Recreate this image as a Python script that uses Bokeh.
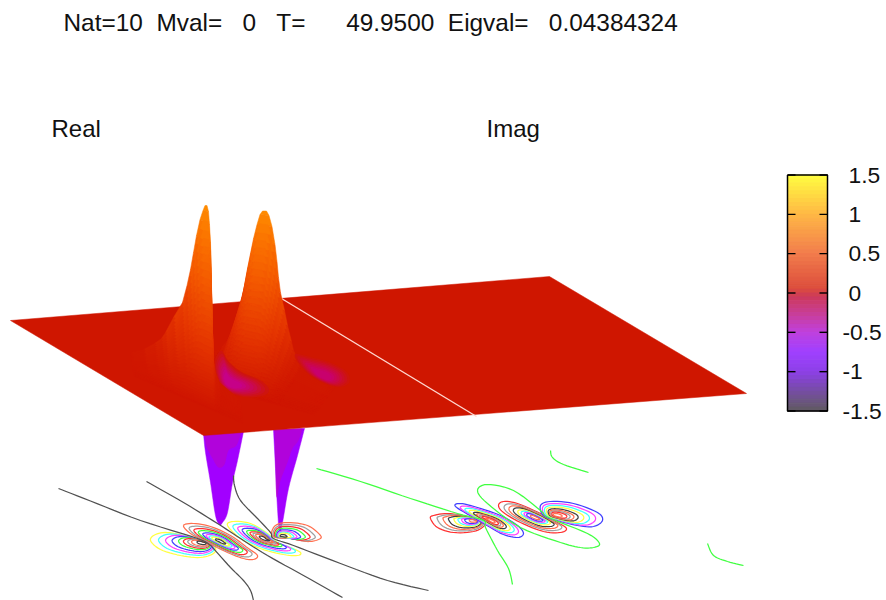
from bokeh.plotting import figure
from bokeh.models import Range1d
from bokeh.core.properties import value
from bokeh.embed import file_html
from bokeh.resources import INLINE

# ---------- texts ----------
TITLE = "Nat=10\u00a0\u00a0Mval=\u00a0\u00a0\u00a00\u00a0\u00a0\u00a0T=\u00a0\u00a0\u00a0\u00a0\u00a0\u00a049.9500\u00a0\u00a0Eigval=\u00a0\u00a0\u00a00.04384324"
PANELS = ["Real", "Imag"]
PANEL_X = [51, 486]
CB_TICKS = [1.5, 1.0, 0.5, 0.0, -0.5, -1.0, -1.5]
CB_LABELS = ["1.5", "1", "0.5", "0", "-0.5", "-1", "-1.5"]
CB_LABEL_X = [848, 848, 848, 848, 842, 842, 842]

# ---------- surface (screen x, screen y) ----------
PLANE_X = [10, 549, 746, 203]
PLANE_Y = [320, 276, 393, 435]
SEAM_X = [281, 476]
SEAM_Y = [298, 416]

PROFILE_H = [1, .97, .9, .8, .7, .6, .5, .4, .3, .2, .15, .1, .05, 0]
LEFT_PEAK_LX = [204.5, 202.5, 199.5, 196, 193, 190, 186.5, 182, 173, 165, 161, 154, 143, 130]
LEFT_PEAK_LY = [205, 210, 219, 235, 252, 269, 285, 302, 317, 332, 338, 343, 349, 352]
LEFT_PEAK_RX = [206.5, 208, 209, 210, 210.5, 210.7, 211, 211.5, 212, 212.5, 213, 215, 219, 240]
LEFT_PEAK_RY = [205, 211, 224, 242, 260, 278, 296, 315, 333, 351, 362, 372, 382, 400]
RIGHT_PEAK_LX = [262, 259.5, 256.5, 253, 250, 247, 244.5, 241, 236, 232.5, 230, 227, 221, 210]
RIGHT_PEAK_LY = [210.5, 214, 224, 238, 253, 268, 284, 298, 315, 326, 333, 340, 347, 352]
RIGHT_PEAK_RX = [266, 268.5, 271.5, 274.5, 276.5, 278, 280, 284, 287, 291, 293, 297, 301, 335]
RIGHT_PEAK_RY = [210.5, 215, 226, 244, 261, 277, 292, 310, 325, 341, 350, 358, 366, 386]
SLICES = [1, .95, .9, .86, .82, .78, .74, .70, .66, .62, .58, .54, .50, .46, .42, .38, .34, .30, .26, .22, .18, .14, .10, .06]

SPIKE1_X = [203, 205, 210, 215, 219, 222, 227, 232, 237, 243]
SPIKE1_Y = [433, 452, 482, 515, 524, 522, 512, 482, 460, 431]
SPIKE2_X = [273, 275, 277, 279, 282, 288, 297, 304]
SPIKE2_Y = [429, 468, 508, 531, 522, 488, 455, 428]
SPIKE1_TINT_X = [204, 206, 212, 218, 224, 228, 236, 241]
SPIKE1_TINT_Y = [433, 446, 458, 467, 464, 450, 445, 431]
SPIKE2_TINT_X = [274, 275, 276, 280, 287, 292, 298, 302]
SPIKE2_TINT_Y = [429, 470, 497, 480, 462, 448, 440, 428]

CRESCENT1_X = [215, 218, 228, 245, 262, 266, 258, 240, 228, 221]
CRESCENT1_Y = [363, 380, 391, 396, 394, 388, 380, 372, 362, 352]
CRESCENT2_X = [296, 302, 315, 335, 347, 345, 330, 312]
CRESCENT2_Y = [355, 367, 378, 386, 382, 372, 363, 358]

# ---------- contour lines at the base ----------
LEVEL_FRACS = [1, .85, .72, .6, .48, .39, .31, .24, .14]
COLORS_A = ["#ffff40", "#40ffff", "#ff40ff", "#4040ff", "#40ff40", "#ff3030", "#a0a0a0", "#ff7050", "#404040"]
COLORS_B = ["#ff7050", "#a0a0a0", "#ff3030", "#40ff40", "#4040ff", "#ff40ff", "#40ffff", "#ffff40", "#404040"]
COLORS_C = ["#ff3030", "#a0a0a0", "#ff7050", "#404040", "#ffff40", "#40ffff", "#ff40ff", "#4040ff", "#ff7050"]
COLORS_D = ["#4040ff", "#ff40ff", "#40ffff", "#ffff40", "#404040", "#ff7050", "#a0a0a0", "#ff3030", "#ff7050"]

L1 = [(150,540),(155,534),(167,532),(183,535),(200,540),(210,543),(215,547),(213,553),(200,557),(180,555),(160,549)]
L2 = [(183,525),(193,523),(210,526),(230,535),(248,548),(257,555),(253,559),(243,558),(227,552),(207,542),(190,533)]
L3 = [(227,525),(233,521),(250,523),(267,533),(277,542),(290,547),(300,552),(297,555),(283,554),(260,548),(240,538)]
L4 = [(271,533),(275,525),(287,522),(307,525),(320,535),(318,539),(307,541),(290,538),(275,537)]
R1 = [(430,518),(433,515),(447,513),(467,516),(482,522),(483,526),(473,531),(453,532),(437,527)]
R2 = [(455,506),(460,503),(477,507),(500,515),(517,525),(523,533),(517,537),(503,534),(490,527),(473,517)]
R3 = [(498,505),(503,501),(517,503),(540,513),(557,522),(566,528),(560,532),(543,531),(520,522),(503,512)]
R4 = [(540,505),(550,501),(573,503),(597,512),(602,520),(593,526),(577,525),(557,520),(543,515)]
G_LOOP = [(477,490),(487,484),(513,490),(540,510),(548,517),(587,533),(599,543),(593,547),(580,547),(560,542),(520,527),(487,503)]

LOBES = [(L1,(204,542),COLORS_A),(L2,(220,541),COLORS_B),(L3,(264,538),COLORS_A),(L4,(281,536),COLORS_B),
         (R1,(475,520),COLORS_C),(R2,(490,520),COLORS_D),(R3,(535,517),COLORS_C),(R4,(555,515),COLORS_D)]

ZERO_BLACK = [
    [(58,488),(90,500.5),(140,520),(197,538),(210,545),(213,548),(230,567),(243,580),(250,590),(253,600)],
    [(146,481),(183,502),(217,523),(240,538),(267,555),(303,575),(342,597)],
    [(233,475),(234,485),(240,500),(257,518),(270,532),(273,538),(293,545),(340,563),(387,580),(428,590)],
]
ZERO_GREEN = [
    [(316,468),(360,481),(410,498),(457,513),(483,520),(485,527),(497,550),(508,568),(512,584)],
    [(550,450),(552,457),(563,464),(588,472)],
    [(707,543),(713,555),(727,561),(743,565)],
]

# ---------- colour bar ----------
CB_VALUES = [1.5, 1.0, 0.5, 0.05, -0.05, -0.3, -0.5, -0.75, -1.0, -1.5]
CB_RGB = [(255,255,64),(255,184,69),(242,125,76),(220,77,60),(204,58,90),(200,62,160),(192,64,220),(160,64,255),(141,64,232),(96,90,96)]
CB_BOX = (787, 827, 174.5, 410.5)

# surface colour against height fraction
Z_STOPS = [0, .1, .3, .6, .8, 1]
Z_RGB = [(207,22,0),(213,31,0),(228,52,0),(243,88,0),(250,112,0),(255,140,0)]


def ramp(v, xs, cols):
    pairs = sorted(zip(xs, cols))
    if v <= pairs[0][0]:
        c = pairs[0][1]
    elif v >= pairs[-1][0]:
        c = pairs[-1][1]
    else:
        for (a, ca), (b, cb) in zip(pairs, pairs[1:]):
            if a <= v <= b:
                t = (v - a) / (b - a)
                c = tuple(ca[i] + t * (cb[i] - ca[i]) for i in range(3))
                break
    return "#%02x%02x%02x" % tuple(int(round(q)) for q in c)


def smooth(pts, closed=False, n=6):
    P = list(pts)
    out = []
    m = len(P)
    segs = m if closed else m - 1
    for i in range(segs):
        if closed:
            p0, p1, p2, p3 = P[(i-1) % m], P[i], P[(i+1) % m], P[(i+2) % m]
        else:
            p0, p1, p2, p3 = P[max(i-1, 0)], P[i], P[i+1], P[min(i+2, m-1)]
        for k in range(n):
            t = k / n
            out.append(tuple(0.5 * (2*p1[d] + (p2[d]-p0[d])*t + (2*p0[d]-5*p1[d]+4*p2[d]-p3[d])*t*t
                                    + (3*p1[d]-p0[d]-3*p2[d]+p3[d])*t*t*t) for d in (0, 1)))
    out.append(P[0] if closed else P[-1])
    return out


def peak_quads(lx, ly, rx, ry, drift_x, drift_y):
    x0, y0, x1, y1 = lx[-1], ly[-1], rx[-1], ry[-1]
    foot = lambda x: y0 + (x - x0) * (y1 - y0) / (x1 - x0)
    xs, ys, cols = [], [], []
    for s in SLICES:
        def pt(x, y):
            f = foot(x)
            return x + (1 - s) * drift_x, f - s * (f - y) + (1 - s) * drift_y
        for j in range(len(PROFILE_H) - 1):
            a, b = pt(lx[j], ly[j]), pt(rx[j], ry[j])
            c, d = pt(rx[j+1], ry[j+1]), pt(lx[j+1], ly[j+1])
            xs.append([a[0], b[0], c[0], d[0]])
            ys.append([a[1], b[1], c[1], d[1]])
            cols.append(ramp(s * (PROFILE_H[j] + PROFILE_H[j+1]) / 2, Z_STOPS, Z_RGB))
    return xs, ys, cols


p = figure(width=886, height=600, x_range=Range1d(0, 886), y_range=Range1d(600, 0),
           toolbar_location=None, output_backend="svg", min_border=0,
           background_fill_color="white", border_fill_color="white")
p.axis.visible = False
p.grid.visible = False
p.outline_line_color = None

for sx_, sy_ in [(SPIKE1_X, SPIKE1_Y), (SPIKE2_X, SPIKE2_Y)]:
    q = smooth(list(zip(sx_, sy_)))
    p.patch([a for a, _ in q], [b for _, b in q], fill_color="#a200ff", line_color="#a200ff", line_width=0.5)
for sx_, sy_ in [(SPIKE1_TINT_X, SPIKE1_TINT_Y), (SPIKE2_TINT_X, SPIKE2_TINT_Y)]:
    q = smooth(list(zip(sx_, sy_)))
    p.patch([a for a, _ in q], [b for _, b in q], fill_color="#b804cc", fill_alpha=0.7, line_color=None)

p.patch(PLANE_X, PLANE_Y, fill_color="#cf1600", line_color="#cf1600", line_width=0.5)
p.line(SEAM_X, SEAM_Y, line_color="#ffd8d0", line_width=1.4)

xs, ys, cols = peak_quads(RIGHT_PEAK_LX, RIGHT_PEAK_LY, RIGHT_PEAK_RX, RIGHT_PEAK_RY, -22, 30)
p.patches(xs, ys, fill_color=cols, line_color=cols, line_width=0.5)

for cx, cy, anchor, fade in [(CRESCENT1_X, CRESCENT1_Y, (228, 383), (198, 0, 140)),
                             (CRESCENT2_X, CRESCENT2_Y, (322, 376), (200, 0, 112))]:
    for f, t in zip([1.06, .96, .86, .76, .66, .56, .46, .36], [.1, .22, .36, .5, .63, .76, .88, .97]):
        col = ramp(t, [0, 1], [(207, 22, 0), fade])
        q = smooth(list(zip(cx, cy)), closed=True)
        p.patch([anchor[0] + f * (a - anchor[0]) for a, _ in q],
                [anchor[1] + f * (b - anchor[1]) for _, b in q], fill_color=col, line_color=None)

xs, ys, cols = peak_quads(LEFT_PEAK_LX, LEFT_PEAK_LY, LEFT_PEAK_RX, LEFT_PEAK_RY, 3, 25)
p.patches(xs, ys, fill_color=cols, line_color=cols, line_width=0.5)

W = 1.25
for lobe, anchor, colors in LOBES:
    curve = smooth(lobe, closed=True)
    for f, c in zip(LEVEL_FRACS, colors):
        p.line([anchor[0] + f * (q[0] - anchor[0]) for q in curve],
               [anchor[1] + f * (q[1] - anchor[1]) for q in curve], line_color=c, line_width=W)
for line in ZERO_BLACK:
    q = smooth(line)
    p.line([a for a, _ in q], [b for _, b in q], line_color="#505050", line_width=W)
for line in ZERO_GREEN:
    q = smooth(line)
    p.line([a for a, _ in q], [b for _, b in q], line_color="#40ff40", line_width=W)
q = smooth(G_LOOP, closed=True)
p.line([a for a, _ in q], [b for _, b in q], line_color="#40ff40", line_width=W)

x0, x1, y_top, y_bot = CB_BOX
to_y = lambda v: y_top + (1.5 - v) * (y_bot - y_top) / 3.0
n = 60
sx, sy, sc = [], [], []
for i in range(n):
    v0 = 1.5 - 3.0 * i / n
    v1 = 1.5 - 3.0 * (i + 1) / n
    sx.append([x0, x1, x1, x0])
    sy.append([to_y(v0), to_y(v0), to_y(v1), to_y(v1)])
    sc.append(ramp((v0 + v1) / 2, CB_VALUES, CB_RGB))
p.patches(sx, sy, fill_color=sc, line_color=sc, line_width=1)
for v in CB_TICKS:
    y = to_y(v)
    p.line([x0, x0 + 8], [y, y], line_color="black", line_width=1.4)
    p.line([x1 - 8, x1], [y, y], line_color="black", line_width=1.4)
p.line([x0, x1, x1, x0, x0], [y_top, y_top, y_bot, y_bot, y_top], line_color="black", line_width=1.5)

font = value("Liberation Sans")
p.text([63], [22], text=[TITLE], text_font=font, text_font_size="24.4px", text_color="#111111",
       text_baseline="alphabetic", text_align="left")
p.text(PANEL_X, [128, 128], text=PANELS, text_font=font, text_font_size="24px", text_color="#111111",
       text_baseline="alphabetic", text_align="left")
p.text(CB_LABEL_X, [to_y(v) for v in CB_TICKS], text=CB_LABELS, text_font=font,
       text_font_size="22.8px", text_color="#111111", text_baseline="alphabetic", text_align="left")

open("out.html", "w").write(file_html(p, INLINE))
